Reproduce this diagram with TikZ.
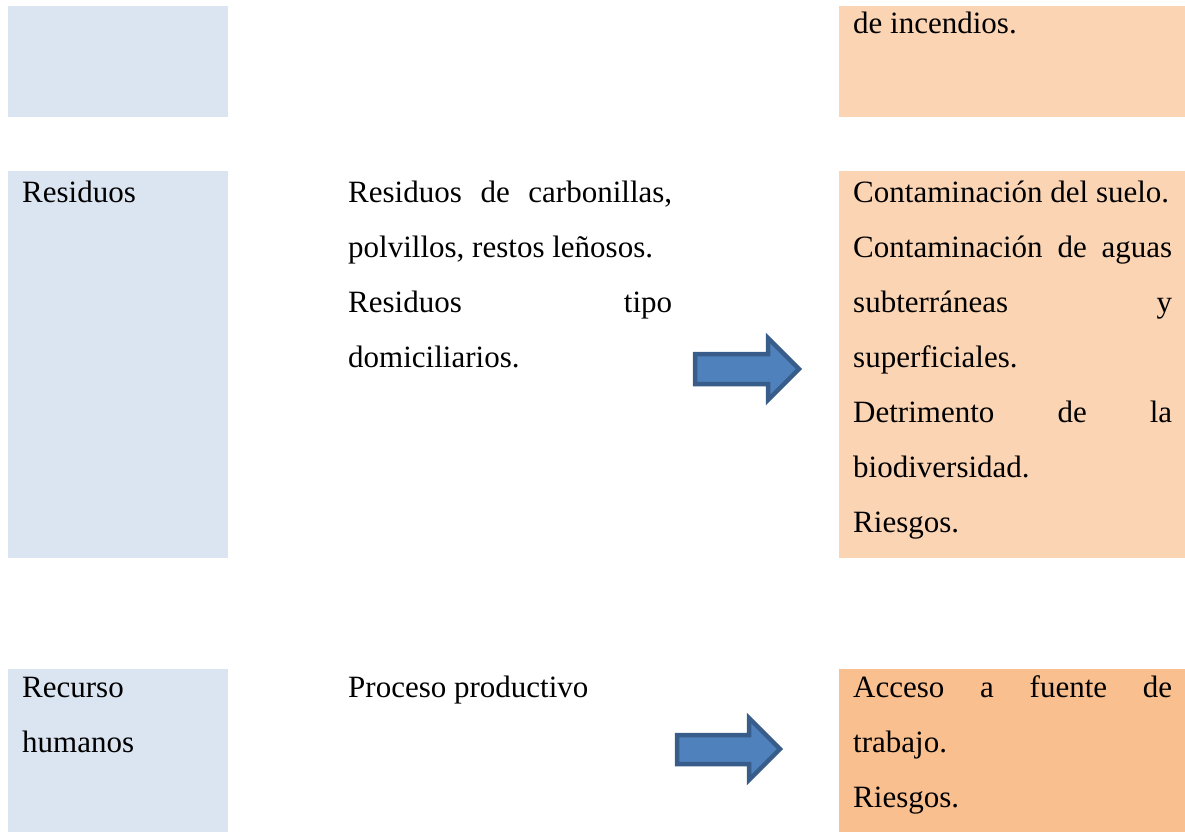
\documentclass[tikz,border=0pt]{standalone}
\usepackage{fontspec}
\setmainfont{Liberation Serif}
\definecolor{boxblue}{HTML}{DBE5F1}
\definecolor{boxorange}{HTML}{FBD4B4}
\definecolor{boxorangedark}{HTML}{FABF8F}
\definecolor{arrowfill}{HTML}{4F81BD}
\definecolor{arrowline}{HTML}{385D8A}
\begin{document}
\begin{tikzpicture}[x=1pt,y=-1pt,
  txt/.style={anchor=base west,inner sep=0pt,font=\fontsize{31}{55}\selectfont},
  bluebox/.style={fill=boxblue,draw=none},
  orbox/.style={fill=boxorange,draw=none},
  orboxdark/.style={fill=boxorangedark,draw=none},
  blockarrow/.style={fill=arrowfill,draw=arrowline,line width=4.5pt,line join=miter}]
\useasboundingbox (0,0) rectangle (1185,832);
% boxes
\fill[bluebox] (8,6) rectangle (228,117);
\fill[orbox] (839,6) rectangle (1185,117);
\fill[bluebox] (8,171) rectangle (228,558);
\fill[orbox] (839,171) rectangle (1185,558);
\fill[bluebox] (8,669) rectangle (228,832);
\fill[orboxdark] (839,669) rectangle (1185,832);
% top row
\node[txt] (t1) at (853,34) {de incendios.};
% middle row
\node[txt] (l2) at (22,202) {Residuos};
\node[txt] (m2a) at (348,202) {\makebox[324pt][s]{Residuos de carbonillas,}};
\node[txt] (m2b) at (348,257) {polvillos, restos leñosos.};
\node[txt] (m2c) at (348,312) {\makebox[324pt][s]{Residuos tipo}};
\node[txt] (m2d) at (348,367) {domiciliarios.};
\node[txt] (r2a) at (853,202) {Contaminación del suelo.};
\node[txt] (r2b) at (853,257) {\makebox[319pt][s]{Contaminación de aguas}};
\node[txt] (r2c) at (853,312) {\makebox[319pt][s]{subterráneas y}};
\node[txt] (r2d) at (853,367) {superficiales.};
\node[txt] (r2e) at (853,422) {\makebox[319pt][s]{Detrimento de la}};
\node[txt] (r2f) at (853,477) {biodiversidad.};
\node[txt] (r2g) at (853,532) {Riesgos.};
% bottom row
\node[txt] (l3a) at (22,697) {Recurso};
\node[txt] (l3b) at (22,752) {humanos};
\node[txt] (m3) at (348,697) {Proceso productivo};
\node[txt] (r3a) at (853,697) {\makebox[319pt][s]{Acceso a fuente de}};
\node[txt] (r3b) at (853,752) {trabajo.};
\node[txt] (r3c) at (853,807) {Riesgos.};
% block arrows
\draw[blockarrow] (695,354) -- (768,354) -- (768,338) -- (799,369) -- (768,400) -- (768,384) -- (695,384) -- cycle;
\draw[blockarrow] (677,735) -- (749,735) -- (749,718) -- (780,749) -- (749,780) -- (749,764) -- (677,764) -- cycle;
\end{tikzpicture}
\end{document}
